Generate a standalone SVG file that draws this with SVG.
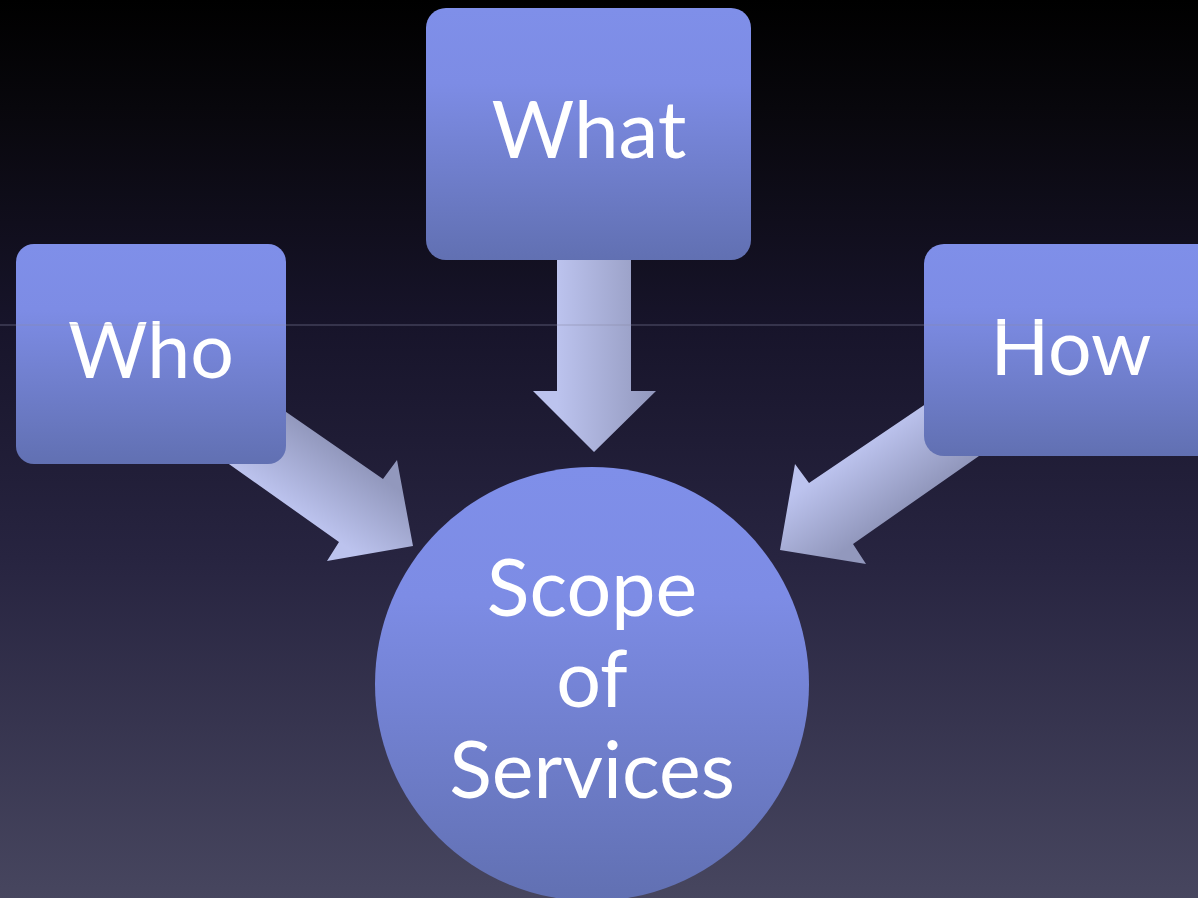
<svg xmlns="http://www.w3.org/2000/svg" width="1198" height="898" viewBox="0 0 1198 898">
<defs>
<linearGradient id="bg" x1="0" y1="0" x2="0" y2="1">
<stop offset="0" stop-color="#000000"/>
<stop offset="0.12" stop-color="#08070c"/>
<stop offset="0.36" stop-color="#17142a"/>
<stop offset="0.62" stop-color="#272440"/>
<stop offset="1" stop-color="#47465f"/>
</linearGradient>
<linearGradient id="node" x1="0" y1="0" x2="0" y2="1">
<stop offset="0" stop-color="#7f8fe9"/>
<stop offset="0.3" stop-color="#7d8ce5"/>
<stop offset="1" stop-color="#6170b2"/>
</linearGradient>
<linearGradient id="arrV" x1="557" y1="0" x2="656" y2="0" gradientUnits="userSpaceOnUse">
<stop offset="0" stop-color="#bcc3ee"/>
<stop offset="1" stop-color="#9298bd"/>
</linearGradient>
<linearGradient id="arrL" x1="339" y1="542" x2="383" y2="479" gradientUnits="userSpaceOnUse">
<stop offset="0" stop-color="#bcc3ee"/>
<stop offset="1" stop-color="#9298bd"/>
</linearGradient>
<linearGradient id="arrR" x1="809" y1="483" x2="853" y2="544" gradientUnits="userSpaceOnUse">
<stop offset="0" stop-color="#bcc3ee"/>
<stop offset="1" stop-color="#9298bd"/>
</linearGradient>
<style>
.lbl{font-family:"Lato","Open Sans","Liberation Sans",sans-serif;fill:#ffffff;text-anchor:middle}
</style>
</defs>
<rect x="0" y="0" width="1198" height="898" fill="url(#bg)"/>
<g id="connectors">
<polygon points="557,250 631,250 631,391 656,391 594,452 533,391 557,391" fill="url(#arrV)"/>
<polygon points="204,355 383,479 397,460 413,546 327,561 339,542 150,408" fill="url(#arrL)"/>
<polygon points="1007,349 809,483 795,464 780,550 866,564 853,544 1059,400" fill="url(#arrR)"/>
</g>
<g id="node-what">
<rect x="426" y="8" width="325" height="252" rx="20" fill="url(#node)"/>
<text class="lbl" x="589" y="158" font-size="80">What</text>
</g>
<g id="node-who">
<rect x="16" y="244" width="270" height="220" rx="18" fill="url(#node)"/>
<text class="lbl" x="151" y="378" font-size="77">Who</text>
</g>
<g id="node-how">
<rect x="924" y="244" width="300" height="212" rx="20" fill="url(#node)"/>
<text class="lbl" x="1071" y="375" font-size="77">How</text>
</g>
<g id="node-scope">
<circle cx="592" cy="684" r="217" fill="url(#node)"/>
<text class="lbl" x="592" y="616" font-size="79">Scope</text>
<text class="lbl" x="592" y="707" font-size="79">of</text>
<text class="lbl" x="592" y="798" font-size="79">Services</text>
</g>
<line x1="0" y1="325" x2="1198" y2="325" stroke="#8a8aa8" stroke-opacity="0.55" stroke-width="1"/>
</svg>
